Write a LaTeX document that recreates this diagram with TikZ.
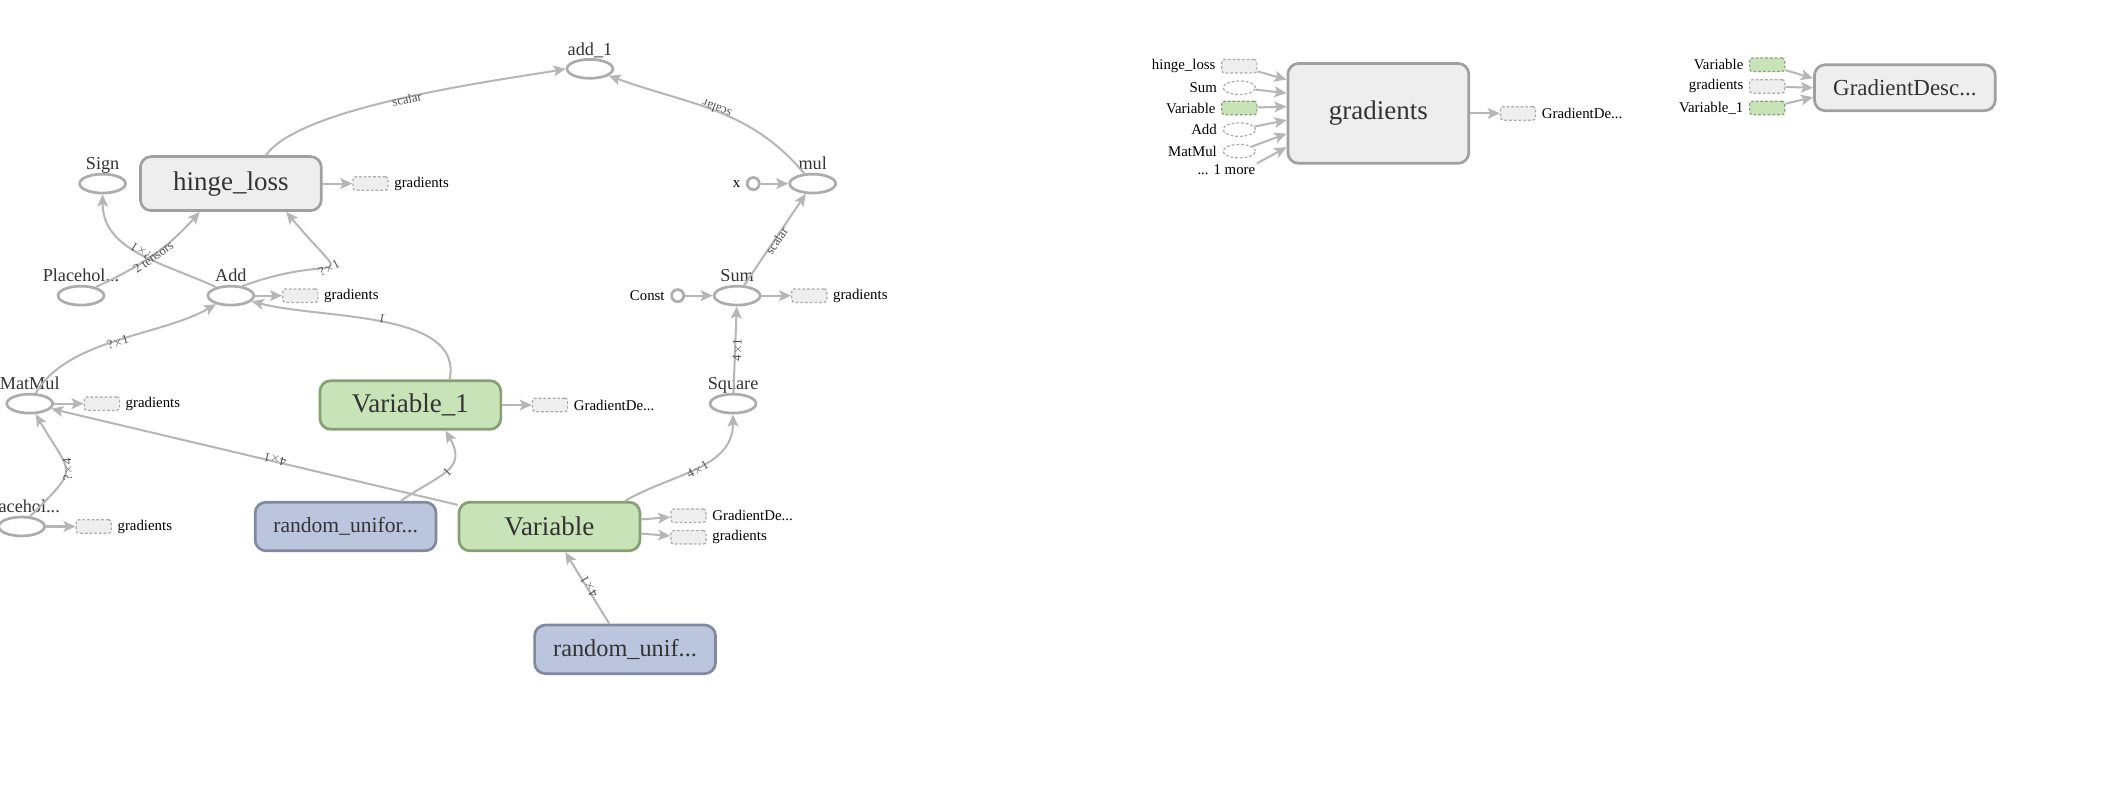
\documentclass[tikz,border=0pt]{standalone}
\usepackage{fontspec}
\setmainfont{Liberation Serif}
\usetikzlibrary{shapes.geometric,arrows.meta,positioning}

\definecolor{edgegray}{RGB}{182,182,182}
\definecolor{opline}{RGB}{172,172,172}
\definecolor{metafill}{RGB}{238,238,238}
\definecolor{metaline}{RGB}{160,160,160}
\definecolor{varfill}{RGB}{199,227,183}
\definecolor{varline}{RGB}{134,160,116}
\definecolor{randfill}{RGB}{187,198,222}
\definecolor{randline}{RGB}{128,137,158}
\definecolor{stubline}{RGB}{170,170,170}
\definecolor{nodetext}{RGB}{51,51,51}
\definecolor{edgetext}{RGB}{80,80,80}

\tikzset{
  op/.style={ellipse, draw=opline, line width=2pt, minimum width=34pt, minimum height=14pt, inner sep=0pt},
  opname/.style={font=\fontsize{13.5}{15}\selectfont, text=nodetext, text depth=0pt, inner sep=2pt},
  meta/.style={rectangle, rounded corners=8pt, line width=2pt, minimum width=134pt, minimum height=36pt, inner sep=0pt, text=nodetext, font=\fontsize{20}{22}\selectfont},
  metabox/.style={meta, fill=metafill, draw=metaline},
  varbox/.style={meta, fill=varfill, draw=varline},
  randbox/.style={meta, fill=randfill, draw=randline},
  stub/.style={rectangle, rounded corners=2pt, draw=stubline, fill=metafill, dash pattern=on 2pt off 1.5pt, line width=0.9pt, minimum width=26pt, minimum height=10pt, inner sep=0pt},
  varstub/.style={stub, fill=varfill, draw=varline},
  opstub/.style={ellipse, draw=stubline, fill=white, dash pattern=on 2pt off 1.5pt, line width=0.9pt, minimum width=24pt, minimum height=10pt, inner sep=0pt},
  const/.style={circle, draw=opline, line width=2pt, minimum size=9pt, inner sep=0pt},
  lbl/.style={font=\fontsize{11}{12}\selectfont, inner sep=1pt},
  dims/.style={font=\fontsize{9.5}{10}\selectfont, text=edgetext, sloped, allow upside down, inner sep=0pt, anchor=north, yshift=2.5pt},
  flow/.style={every edge/.style={draw=edgegray, line width=1.5pt, -{Stealth[length=9pt,width=8pt,inset=2pt]}}}
}

\begin{document}
\begin{tikzpicture}[x=1pt,y=1pt]
  \useasboundingbox (0,0) rectangle (1560,-585);

  % main graph
  \node[op, label={[opname]above:add\_1}] (add_1) at (437,-51) {};
  \node[op, label={[opname]above:Sign}] (sign) at (76,-136) {};
  \node[metabox, minimum height=40pt] (hinge_loss) at (171,-136) {hinge\_loss};
  \node[stub, right=22pt of hinge_loss] (hinge_stub) {};
  \node[lbl, right=3pt of hinge_stub] {gradients};
  \node[op, label={[opname]above:Placehol...}] (placeholder) at (60,-219) {};
  \node[op, label={[opname]above:Add}] (add) at (171,-219) {};
  \node[stub, right=20pt of add] (add_stub) {};
  \node[lbl, right=3pt of add_stub] {gradients};
  \node[op, label={[opname]above:MatMul}] (matmul) at (22,-299) {};
  \node[stub, right=22pt of matmul] (matmul_stub) {};
  \node[lbl, right=3pt of matmul_stub] {gradients};
  \node[varbox] (variable_1) at (304,-300) {Variable\_1};
  \node[stub, right=22pt of variable_1] (var1_stub) {};
  \node[lbl, right=3pt of var1_stub] {GradientDe...};
  \node[op, label={[opname]above:Placehol...}] (placeholder_1) at (16,-390) {};
  \node[stub, right=22pt of placeholder_1] (ph1_stub) {};
  \node[lbl, right=3pt of ph1_stub] {gradients};
  \node[randbox, font=\fontsize{16}{18}\selectfont] (random_1) at (256,-390) {random\_unifor...};
  \node[varbox] (variable) at (407,-390) {Variable};
  \node[stub] (var_stub_a) at (510,-382) {};
  \node[stub] (var_stub_b) at (510,-398) {};
  \node[lbl, right=3pt of var_stub_a] {GradientDe...};
  \node[lbl, right=3pt of var_stub_b] {gradients};
  \node[randbox, font=\fontsize{18}{20}\selectfont] (random_2) at (463,-481) {random\_unif...};
  \node[op, label={[opname]above:Square}] (square) at (543,-299) {};
  \node[op, label={[opname]above:Sum}] (sum) at (546,-219) {};
  \node[const] (const) at (502,-219) {};
  \node[lbl, left=3pt of const] {Const};
  \node[stub, right=22pt of sum] (sum_stub) {};
  \node[lbl, right=3pt of sum_stub] {gradients};
  \node[op, label={[opname]above:mul}] (mul) at (602,-136) {};
  \node[const] (x) at (558,-136) {};
  \node[lbl, left=3pt of x] {x};

  \path[flow]
    ([xshift=26pt]hinge_loss.north) edge[out=55,in=190,looseness=0.5] node[dims] {scalar} (add_1.west)
    (hinge_loss) edge (hinge_stub)
    (mul) edge[out=130,in=-20] node[dims] {scalar} (add_1)
    (x) edge (mul)
    (sum) edge node[dims] {scalar} (mul)
          edge (sum_stub)
    (const) edge (sum)
    (square) edge node[dims] {4$\times$1} (sum)
    ([xshift=56pt]variable.north) edge[out=30,in=-90] node[dims] {4$\times$1} (square.south)
    (variable) edge node[dims, pos=0.45] {4$\times$1} (matmul)
               edge (var_stub_a)
               edge (var_stub_b)
    (random_2) edge node[dims] {4$\times$1} (variable)
    ([xshift=41pt]random_1.north) edge[out=35,in=-60,looseness=1.4] node[dims] {1} ([xshift=26pt]variable_1.south)
    ([xshift=29pt]variable_1.north) edge[out=78,in=-15,looseness=0.85] node[dims] {1} (add)
    (variable_1) edge (var1_stub)
    (matmul.60) edge[out=60,in=210,looseness=0.8] node[dims] {?$\times$1} (add)
    (matmul) edge (matmul_stub)
    (placeholder_1.50) edge[out=45,in=-60,looseness=1.8] node[dims] {?$\times$4} (matmul)
    (placeholder_1) edge (ph1_stub)
    (add.40) edge[out=20,in=-50,looseness=3.2] node[dims] {?$\times$1} ([xshift=41pt]hinge_loss.south)
    (add.150) edge[out=155,in=-90] node[dims] {?$\times$1} (sign)
    (add) edge (add_stub)
    (placeholder.30) edge[out=25,in=228] node[dims] {2 tensors} ([xshift=-23pt]hinge_loss.south);

  % gradients
  \node[metabox, minimum height=74pt] (gradients) at (1021,-84) {gradients};
  \node[stub] (g_in_1) at (918,-49) {};
  \node[opstub] (g_in_2) at (918,-65) {};
  \node[varstub] (g_in_3) at (918,-80) {};
  \node[opstub] (g_in_4) at (918,-96) {};
  \node[opstub] (g_in_5) at (918,-112) {};
  \node[lbl, left=3pt of g_in_1] {hinge\_loss};
  \node[lbl, left=3pt of g_in_2] {Sum};
  \node[lbl, left=3pt of g_in_3] {Variable};
  \node[lbl, left=3pt of g_in_4] {Add};
  \node[lbl, left=3pt of g_in_5] {MatMul};
  \node[lbl, anchor=east] (g_more) at (931,-126) {... 1 more};
  \node[stub, right=22pt of gradients] (gd_stub) {};
  \node[lbl, right=3pt of gd_stub] {GradientDe...};

  % GradientDescent
  \node[metabox, minimum height=34pt, font=\fontsize{17}{19}\selectfont] (descent) at (1411,-65) {GradientDesc...};
  \node[varstub] (d_in_1) at (1309,-48) {};
  \node[stub] (d_in_2) at (1309,-64) {};
  \node[varstub] (d_in_3) at (1309,-80) {};
  \node[lbl, left=3pt of d_in_1] {Variable};
  \node[lbl, left=3pt of d_in_2] {gradients};
  \node[lbl, left=3pt of d_in_3] {Variable\_1};

  \path[flow]
    (g_in_1) edge ([yshift=25pt]gradients.west)
    (g_in_2) edge ([yshift=15pt]gradients.west)
    (g_in_3) edge ([yshift=5pt]gradients.west)
    (g_in_4) edge ([yshift=-5pt]gradients.west)
    (g_in_5) edge ([yshift=-15pt]gradients.west)
    (g_more.north east) edge ([yshift=-25pt]gradients.west)
    (gradients) edge (gd_stub)
    (d_in_1) edge ([yshift=7pt]descent.west)
    (d_in_2) edge (descent.west)
    (d_in_3) edge ([yshift=-7pt]descent.west);
\end{tikzpicture}
\end{document}
